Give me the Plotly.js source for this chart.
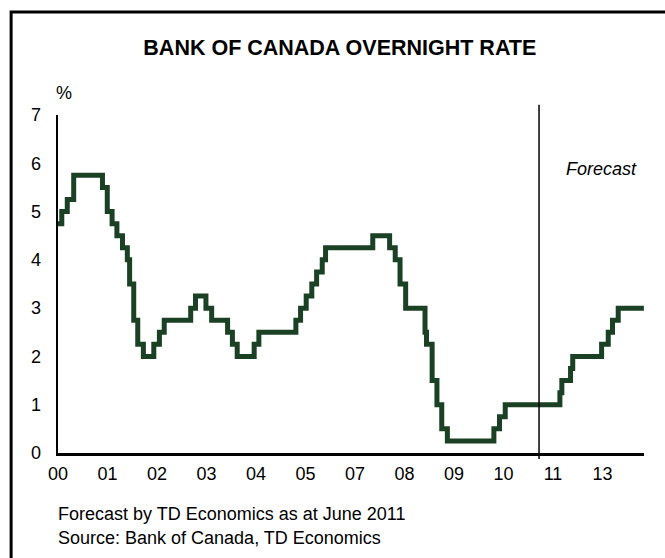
<!DOCTYPE html>
<html>
<head>
<meta charset="utf-8">
<script src="https://cdn.plot.ly/plotly-3.0.1.min.js"></script>
<style>
html,body{margin:0;padding:0;background:#fff;}
#chart{width:665px;height:558px;}
</style>
</head>
<body>
<div id="chart"></div>
<script>
// Dates on which the overnight rate target changed (last two years are TD forecast)
const changeDates = [
  '2000-01-01','2000-02-03','2000-03-22','2000-05-17',
  '2001-01-23','2001-03-06','2001-04-17','2001-05-29','2001-07-17','2001-08-28','2001-09-17','2001-10-23','2001-11-27',
  '2002-01-15','2002-04-16','2002-06-04','2002-07-16',
  '2003-03-04','2003-04-15','2003-07-15','2003-09-03',
  '2004-01-20','2004-03-02','2004-04-13','2004-09-08','2004-10-19',
  '2005-09-07','2005-10-18','2005-12-06',
  '2006-01-24','2006-03-07','2006-04-25','2006-05-24',
  '2007-07-10','2007-12-04',
  '2008-01-22','2008-03-04','2008-04-22','2008-10-08','2008-10-21','2008-12-09',
  '2009-01-20','2009-03-03','2009-04-21',
  '2010-06-01','2010-07-20','2010-09-08',
  '2011-12-29','2012-01-15','2012-03-31','2012-04-19',
  '2012-12-27','2013-02-23','2013-04-01','2013-05-21',
  '2013-12-31'
];
// Overnight rate (%) from each date onward
const rateValues = [
  4.75, 5.00, 5.25, 5.75,
  5.50, 5.00, 4.75, 4.50, 4.25, 4.00, 3.50, 2.75, 2.25,
  2.00, 2.25, 2.50, 2.75,
  3.00, 3.25, 3.00, 2.75,
  2.50, 2.25, 2.00, 2.25, 2.50,
  2.75, 3.00, 3.25,
  3.50, 3.75, 4.00, 4.25,
  4.50, 4.25,
  4.00, 3.50, 3.00, 2.50, 2.25, 1.50,
  1.00, 0.50, 0.25,
  0.50, 0.75, 1.00,
  1.25, 1.50, 1.75, 2.00,
  2.25, 2.50, 2.75, 3.00,
  3.00
];
// x-axis label positions (every 432 days from 1 Jan 2000) and their labels
const xTickDates = [
  '2000-01-01','2001-03-08','2002-05-14','2003-07-20','2004-09-24','2005-11-30',
  '2007-02-05','2008-04-12','2009-06-18','2010-08-24','2011-10-30','2013-01-04'
];
const xTickLabels = ['00','01','02','03','04','05','07','08','09','10','11','13'];
const forecastStart = '2011-06-30';
const yTicks = [0, 1, 2, 3, 4, 5, 6, 7];

const FONT = 'Liberation Sans, Arial, sans-serif';
const FS = 18;

const trace = {
  x: changeDates,
  y: rateValues,
  type: 'scatter',
  mode: 'lines',
  line: {shape: 'hv', color: '#1b4125', width: 5}
};

const layout = {
  width: 665,
  height: 558,
  margin: {l: 58, r: 21, t: 115, b: 105},
  showlegend: false,
  font: {family: FONT, size: FS, color: '#000'},
  title: {
    text: '<b>BANK OF CANADA OVERNIGHT RATE</b>',
    font: {family: FONT, size: 21.5, color: '#000'},
    x: 0.511, xanchor: 'center',
    y: 0.915, yanchor: 'middle', yref: 'container'
  },
  xaxis: {
    type: 'date',
    range: ['2000-01-01', '2014-01-01'],
    tickmode: 'array',
    tickvals: xTickDates,
    ticktext: xTickLabels,
    ticklabeloverflow: 'allow',
    showgrid: false,
    zeroline: false,
    showline: true,
    linecolor: '#000',
    linewidth: 2.5,
    ticks: 'outside',
    ticklen: 3,
    tickcolor: 'rgba(0,0,0,0)',
    tickangle: 0,
    tickfont: {family: FONT, size: FS, color: '#000'},
    fixedrange: true
  },
  yaxis: {
    range: [0, 7],
    tickvals: yTicks,
    ticktext: yTicks.map(String),
    ticklabeloverflow: 'allow',
    showgrid: false,
    zeroline: false,
    showline: true,
    linecolor: '#000',
    linewidth: 2.5,
    ticks: 'outside',
    ticklen: 11,
    tickcolor: 'rgba(0,0,0,0)',
    tickfont: {family: FONT, size: FS, color: '#000'},
    fixedrange: true
  },
  shapes: [
    {
      type: 'line', xref: 'x', yref: 'paper',
      x0: forecastStart, x1: forecastStart, y0: -0.018, y1: 1.03,
      line: {color: '#000', width: 1.5}
    },
    {
      type: 'rect', xref: 'paper', yref: 'paper',
      x0: -0.08, x1: 1.2, y0: -0.6, y1: 1.305,
      line: {color: '#000', width: 3}, fillcolor: 'rgba(0,0,0,0)'
    }
  ],
  annotations: [
    {text: '%', xref: 'paper', yref: 'paper', x: 0.011, y: 1.065,
     xanchor: 'center', yanchor: 'middle', showarrow: false},
    {text: '<i>Forecast</i>', xref: 'paper', yref: 'paper', x: 0.927, y: 0.84,
     xanchor: 'center', yanchor: 'middle', showarrow: false},
    {text: 'Forecast by TD Economics as at June 2011', xref: 'paper', yref: 'paper',
     x: -0.003, y: -0.18, xanchor: 'left', yanchor: 'middle', showarrow: false},
    {text: 'Source: Bank of Canada, TD Economics', xref: 'paper', yref: 'paper',
     x: -0.003, y: -0.251, xanchor: 'left', yanchor: 'middle', showarrow: false}
  ]
};

Plotly.newPlot('chart', [trace], layout, {displayModeBar: false, staticPlot: true});
</script>
</body>
</html>
